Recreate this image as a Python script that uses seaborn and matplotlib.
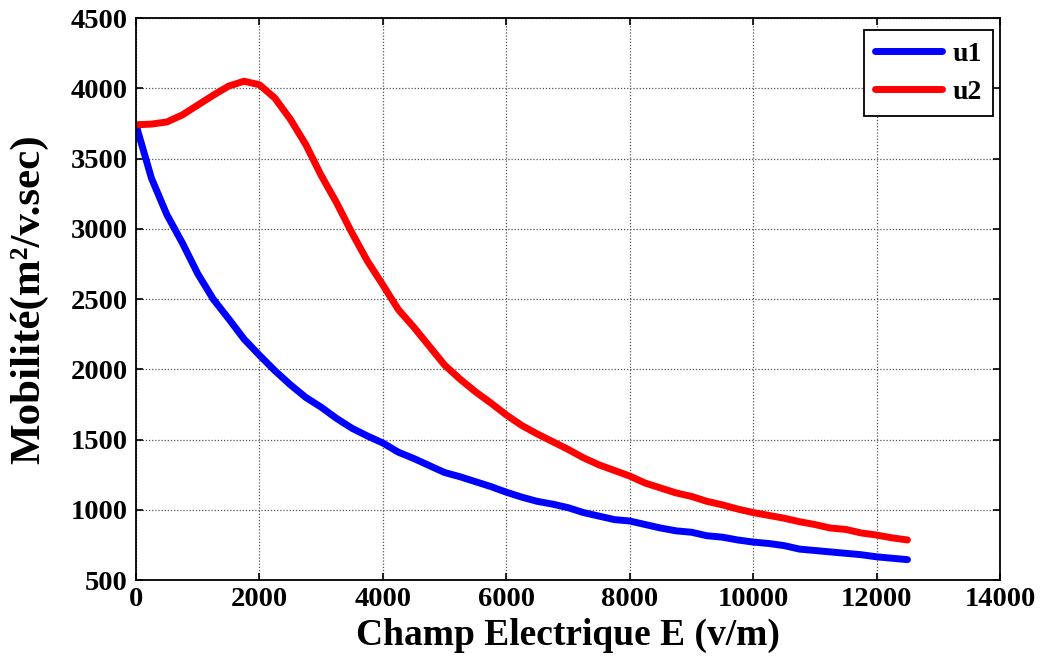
import numpy as np
import pandas as pd
import matplotlib
matplotlib.use("Agg")
import matplotlib.pyplot as plt
import seaborn as sns

E = list(range(0, 12501, 250))
u1 = [3740, 3360, 3100, 2900, 2680, 2500, 2360, 2215, 2100, 1990,
      1890, 1800, 1730, 1650, 1580, 1525, 1475, 1410, 1365, 1315,
      1265, 1235, 1200, 1165, 1125, 1090, 1060, 1040, 1015, 980,
      955, 930, 920, 895, 870, 850, 840, 815, 805, 785,
      770, 760, 745, 720, 710, 700, 690, 680, 665, 655, 645]
u2 = [3740, 3745, 3760, 3810, 3880, 3950, 4015, 4050, 4025, 3930,
      3780, 3600, 3380, 3185, 2970, 2770, 2600, 2425, 2300, 2165,
      2030, 1930, 1840, 1760, 1675, 1600, 1540, 1485, 1430, 1370,
      1320, 1280, 1240, 1190, 1155, 1120, 1095, 1060, 1035, 1005,
      980, 960, 940, 915, 895, 870, 860, 835, 820, 800, 785]
series_names = ["u1", "u2"]
xticks = [0, 2000, 4000, 6000, 8000, 10000, 12000, 14000]
yticks = [500, 1000, 1500, 2000, 2500, 3000, 3500, 4000, 4500]

df = pd.DataFrame({"E": E * 2, "u": u1 + u2,
                   "serie": [series_names[0]] * len(E) + [series_names[1]] * len(E)})

sns.set_theme(style="white")
plt.rcParams["font.family"] = ["Liberation Serif", "DejaVu Serif"]
plt.rcParams["font.weight"] = "bold"
plt.rcParams["text.color"] = "black"
plt.rcParams["axes.labelcolor"] = "black"
plt.rcParams["xtick.color"] = "black"
plt.rcParams["ytick.color"] = "black"

fig = plt.figure(figsize=(10.43, 6.6), dpi=100)
ax = fig.add_axes([0.1304, 0.1212, 0.8284, 0.8515])

sns.lineplot(data=df, x="E", y="u", hue="serie", palette=["#0000ff", "#ff0000"],
             linewidth=5, ax=ax, sort=False)

ax.set_xlim(0, 14000)
ax.set_ylim(500, 4500)
ax.set_xticks(xticks)
ax.set_yticks(yticks)
ax.set_xticklabels([str(t) for t in xticks], fontsize=20.5, fontweight="bold")
ax.set_yticklabels([str(t) for t in yticks], fontsize=20.5, fontweight="bold")
ax.tick_params(axis="both", direction="in", length=5, width=1.2, top=True, right=True,
               bottom=True, left=True, colors="black")
ax.tick_params(axis="x", pad=5)
ax.tick_params(axis="y", pad=6)
ax.grid(True, linestyle=(0, (1, 1.5)), color="#555555", linewidth=0.9)
for s in ax.spines.values():
    s.set_color("black")
    s.set_linewidth(1.3)

ax.set_xlabel("Champ Electrique E (v/m)", fontsize=27, fontweight="bold", labelpad=4)
ax.set_ylabel("Mobilité(m²/v.sec)", fontsize=31, fontweight="bold")
ax.yaxis.set_label_coords(-0.102, 0.5)

leg = ax.legend(loc="upper right", fontsize=20, frameon=True, fancybox=False,
                handlelength=2.4, handletextpad=0.4, borderpad=0.4, labelspacing=0.45,
                borderaxespad=0, bbox_to_anchor=(0.992, 0.9786))
leg.get_frame().set_edgecolor("black")
leg.get_frame().set_linewidth(1.3)
leg.get_frame().set_facecolor("white")
leg.get_frame().set_alpha(1)
for t in leg.get_texts():
    t.set_fontweight("bold")

fig.savefig("out.png", dpi=100)
